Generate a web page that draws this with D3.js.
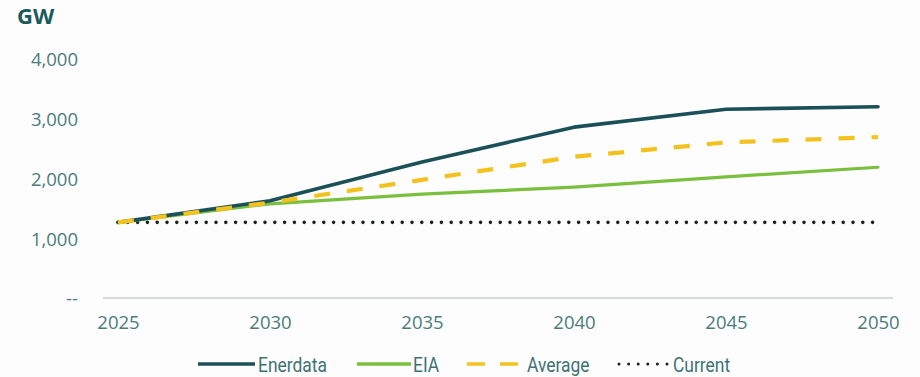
<!DOCTYPE html>
<html>
<head>
<meta charset="utf-8">
<script src="https://cdn.jsdelivr.net/npm/d3@7/dist/d3.min.js"></script>
<style>
  html, body { margin: 0; padding: 0; background: #fdfdfd; }
  svg { display: block; }
  text { font-family: "Open Sans", sans-serif; }
</style>
</head>
<body>
<svg id="chart" width="920" height="377"></svg>
<script>
// Installed capacity outlook, GW
const years = [2025, 2030, 2035, 2040, 2045, 2050];
const enerdata = [1280, 1640, 2290, 2870, 3170, 3210];
const eia      = [1280, 1590, 1750, 1870, 2040, 2200];
const average  = [1280, 1610, 1990, 2375, 2615, 2705];
const current  = [1280, 1280, 1280, 1280, 1280, 1280];

const yTicks = [0, 1000, 2000, 3000, 4000];
const yTickLabels = ["--", "1,000", "2,000", "3,000", "4,000"];
const xTickLabels = ["2025", "2030", "2035", "2040", "2045", "2050"];
const unitLabel = "GW";

const seriesNames = ["Enerdata", "EIA", "Average", "Current"];
const seriesValues = [enerdata, eia, average, current];

const styles = {
  Enerdata: { color: "#1b5058", width: 3.6, dash: null, cap: "round" },
  EIA:      { color: "#7bbf3e", width: 3.2, dash: null, cap: "round" },
  Average:  { color: "#f4c21f", width: 4.2, dash: "16 17", cap: "butt" },
  Current:  { color: "#1a1f1f", width: 3.6, dash: "0 9.8", cap: "round" }
};

const svg = d3.select("#chart");

const x = d3.scaleLinear().domain([2025, 2050]).range([118, 878]);
const y = d3.scaleLinear().domain([0, 4000]).range([299, 59.5]);

// baseline
svg.append("line")
  .attr("x1", 103).attr("x2", 893)
  .attr("y1", y(0) - 1).attr("y2", y(0) - 1)
  .attr("stroke", "#c9cfcf").attr("stroke-width", 1.5);

// y axis labels (no axis line)
const yAxis = d3.axisLeft(y)
  .tickValues(yTicks)
  .tickSize(0)
  .tickPadding(0)
  .tickFormat((d, i) => yTickLabels[i]);
const gy = svg.append("g").attr("transform", "translate(78,0)").call(yAxis);
gy.select(".domain").remove();
gy.selectAll("text")
  .attr("fill", "#4b7c7b")
  .style("font-family", "'Open Sans', sans-serif")
  .style("font-size", "18.5px");

// x axis labels
const xAxis = d3.axisBottom(x)
  .tickValues(years)
  .tickSize(0)
  .tickPadding(0)
  .tickFormat((d, i) => xTickLabels[i]);
const gx = svg.append("g").attr("transform", "translate(0,316)").call(xAxis);
gx.select(".domain").remove();
gx.selectAll("text")
  .attr("fill", "#4b7c7b")
  .style("font-family", "'Open Sans', sans-serif")
  .style("font-size", "18.5px");

// unit label
svg.append("text")
  .attr("x", 17).attr("y", 24)
  .attr("fill", "#1c5a5c")
  .style("font-family", "'Open Sans', sans-serif")
  .style("font-weight", "700")
  .style("font-size", "22px")
  .text(unitLabel);

// series lines, drawn back to front
const line = d3.line()
  .x(d => x(d[0]))
  .y(d => y(d[1]));

const drawOrder = ["Current", "EIA", "Enerdata", "Average"];
drawOrder.forEach(name => {
  const vals = seriesValues[seriesNames.indexOf(name)];
  const s = styles[name];
  svg.append("path")
    .datum(years.map((yr, i) => [yr, vals[i]]))
    .attr("d", line)
    .attr("fill", "none")
    .attr("stroke", s.color)
    .attr("stroke-width", s.width)
    .attr("stroke-linecap", s.cap)
    .attr("stroke-linejoin", "round")
    .attr("stroke-dasharray", s.dash);
});

// legend
const legendItems = [
  { name: "Enerdata", x1: 198, x2: 255, tx: 258 },
  { name: "EIA",      x1: 357, x2: 411, tx: 413 },
  { name: "Average",  x1: 467, x2: 518, tx: 527 },
  { name: "Current",  x1: 619, x2: 668, tx: 673 }
];
const legendY = 364;
const squeeze = 0.83;
const lg = svg.append("g");
legendItems.forEach(it => {
  const s = styles[it.name];
  let dash = s.dash;
  if (it.name === "Average") dash = "18 15";
  lg.append("line")
    .attr("x1", it.x1).attr("x2", it.x2)
    .attr("y1", legendY).attr("y2", legendY)
    .attr("stroke", s.color)
    .attr("stroke-width", it.name === "Current" ? 3 : 3.4)
    .attr("stroke-linecap", it.name === "Current" ? "round" : "butt")
    .attr("stroke-dasharray", it.name === "Current" ? "0 9.6" : dash);
  lg.append("text")
    .attr("transform", `translate(${it.tx},${legendY + 7.5}) scale(${squeeze},1)`)
    .attr("fill", "#3f7274")
    .style("font-family", "Roboto, sans-serif")
    .style("font-size", "21px")
    .text(it.name);
});
</script>
</body>
</html>
